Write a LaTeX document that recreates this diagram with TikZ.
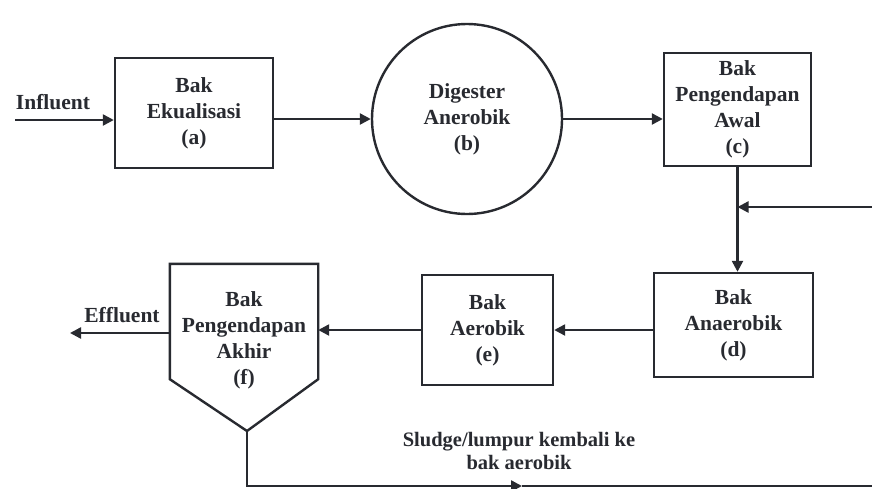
\documentclass[tikz,border=0pt]{standalone}
\usepackage{fontspec}
\setmainfont{Liberation Serif}
\usetikzlibrary{arrows.meta}
\definecolor{ink}{RGB}{40,42,48}
\tikzset{
  txt/.style={font=\fontsize{21.5}{26}\selectfont\bfseries, text=ink, align=center, inner sep=0pt},
  box/.style={draw=ink, line width=2.4pt, txt},
  conn/.style={draw=ink, line width=2.4pt, -{Triangle[length=11pt,width=11pt]}},
  plain/.style={draw=ink, line width=2.4pt}
}
\begin{document}
\begin{tikzpicture}[x=1pt,y=-1pt]
\useasboundingbox (0,0) rectangle (872,488);
% nodes
\node[box, minimum width=158, minimum height=110] (a) at (194,113) {Bak\\Ekualisasi\\(a)};
\node[box, circle, minimum size=190] (b) at (467,119) {Digester\\Anerobik\\(b)};
\node[box, minimum width=147, minimum height=113] (c) at (737.5,109.5) {Bak\\Pengendapan\\Awal\\(c)};
\node[box, minimum width=159, minimum height=104] (d) at (733.5,325) {Bak\\Anaerobik\\(d)};
\node[box, minimum width=131, minimum height=110] (e) at (487.5,330) {Bak\\Aerobik\\(e)};
\node[minimum width=148, minimum height=115, inner sep=0pt] (f) at (244,321.5) {};
\coordinate (fpt) at (247,431);
\draw[plain, line join=miter] (f.north west) -- (f.north east) -- (f.south east) -- (fpt) -- (f.south west) -- cycle;
\node[txt] (ftext) at (244,340) {Bak\\Pengendapan\\Akhir\\(f)};
% labels
\node[txt] (inflbl) at (53,102) {Influent};
\node[txt] (efflbl) at (122,315) {Effluent};
\node[txt, font=\fontsize{20.5}{23}\selectfont\bfseries] (sludge) at (519,451) {Sludge/lumpur kembali ke\\bak aerobik};
% coordinates
\coordinate (inf) at (15,120);
\coordinate (eff) at (70,333);
\coordinate (r1) at (873,207);
\coordinate (bl) at (247,486);
\coordinate (mid) at (522,486);
\coordinate (r2) at (873,486);
\coordinate (j) at (c.south |- r1);
% connectors
\draw[conn] (inf) -- (inf -| a.west);
\draw[conn] (a.east |- b) -- (b.west);
\draw[conn] (b.east) -- (b.east -| c.west);
\draw[conn] (c.south) -- (c.south |- d.north);
\draw[conn] (d.west |- e) -- (e.east);
\draw[conn] (e.west) -- (e.west -| f.east);
\draw[conn] (f.west |- eff) -- (eff);
\draw[conn] (r1) -- (j);
\draw[conn] (fpt) -- (bl) -- (mid);
\draw[plain] (mid) -- (r2);
\end{tikzpicture}
\end{document}
